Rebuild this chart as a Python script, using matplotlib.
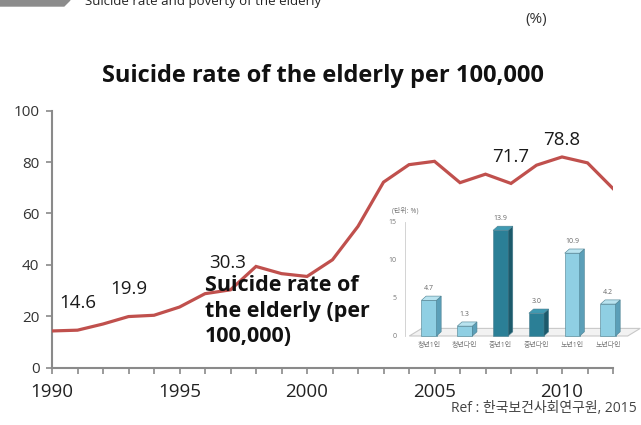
import matplotlib
matplotlib.use("Agg")
import matplotlib.pyplot as plt
from matplotlib.patches import Polygon

plt.rcParams['font.family'] = ['Open Sans', 'Noto Sans CJK KR', 'DejaVu Sans']

# elderly suicide rate per 100,000
years = list(range(1990, 2013))
rate = [14.3, 14.6, 17.0, 19.9, 20.4, 23.6, 28.8, 30.3, 39.4, 36.6, 35.5,
        42.0, 55.0, 72.2, 79.0, 80.3, 72.0, 75.3, 71.7, 78.8, 82.0, 79.7, 69.7]
labelled = {1991: (0, 19.5), 1993: (0, 20), 1997: (-2, 19.5),
            2008: (0, 19), 2009: (18, 18)}

# inset: poverty rate by household type (%)
hh_types = ['청년1인', '청년다인', '중년1인', '중년다인', '노년1인', '노년다인']
poverty = [4.7, 1.3, 13.9, 3.0, 10.9, 4.2]
dark_bar = [False, False, True, True, False, False]

W, H = 641, 425
fig = plt.figure(figsize=(W / 100, H / 100), dpi=100)


def px_box(x0, y0, x1, y1):
    return [x0 / W, 1 - y1 / H, (x1 - x0) / W, (y1 - y0) / H]


# header strip, cut at the top edge
fig.patches.append(Polygon([(0, 1), (70 / W, 1), (64 / W, 1 - 6 / H), (0, 1 - 6 / H)],
                           closed=True, transform=fig.transFigure, color='#8c8c8c'))
fig.text(85 / W, 1 - 5 / H, 'Suicide rate and poverty of the elderly', fontsize=9.5,
         color='#222222', va='baseline', ha='left')
fig.text(536 / W, 1 - 20 / H, '(%)', fontsize=11, color='#333333', ha='center', va='center')
fig.text(323 / W, 1 - 76 / H, 'Suicide rate of the elderly per 100,000', fontsize=17,
         fontweight='bold', ha='center', va='center', color='#111111')

ax = fig.add_axes(px_box(52, 110.7, 613, 367.7))
ax.plot(years, rate, color='#c0504d', lw=2.3, solid_joinstyle='miter', zorder=3)
ax.set_xlim(1990, 2012)
ax.set_ylim(0, 100)
ax.set_yticks(range(0, 101, 20))
ax.set_xticks(years)
ax.set_xticklabels([str(y) if y % 5 == 0 else '' for y in years])
for s in ['top', 'right']:
    ax.spines[s].set_visible(False)
for s in ['left', 'bottom']:
    ax.spines[s].set_color('#8a8a8a')
    ax.spines[s].set_linewidth(1.5)
ax.tick_params(axis='both', direction='out', length=4, width=1.2, color='#8a8a8a')
ax.tick_params(axis='y', labelsize=11, labelcolor='#333333', pad=5)
ax.tick_params(axis='x', labelsize=13.5, labelcolor='#222222', pad=7)

for yr, (dx, dy) in labelled.items():
    v = rate[years.index(yr)]
    ax.annotate(f'{v}', (yr, v), xytext=(dx, dy), textcoords='offset points',
                ha='center', va='center', fontsize=13.5, color='#1a1a1a')

# inset bar chart with pseudo-3D bars
ins = fig.add_axes(px_box(405, 222, 632, 336))
ins.set_xlim(-0.67, 5.67)
ins.set_ylim(0, 15)
bw, ddx, ddy = 0.42, 0.13, 0.55
floor = Polygon([(-0.55, 0), (5.55, 0), (5.55 + 0.35, 1.0), (-0.55 + 0.35, 1.0)],
                closed=True, facecolor='#f2f2f2', edgecolor='#c8c8c8', lw=0.8,
                clip_on=False, zorder=1)
ins.add_patch(floor)
for i, (v, dk) in enumerate(zip(poverty, dark_bar)):
    front, side, top = (('#2b7f96', '#1c5a6b', '#3f9ab2') if dk
                        else ('#8fcfe3', '#5b9fb8', '#b9e3ef'))
    x0, x1 = i - bw / 2, i + bw / 2
    ins.add_patch(Polygon([(x0, 0), (x1, 0), (x1, v), (x0, v)], closed=True,
                          facecolor=front, edgecolor='#4a7f90', lw=0.4, clip_on=False, zorder=3))
    ins.add_patch(Polygon([(x1, 0), (x1 + ddx, ddy), (x1 + ddx, v + ddy), (x1, v)], closed=True,
                          facecolor=side, edgecolor='#4a7f90', lw=0.4, clip_on=False, zorder=3))
    ins.add_patch(Polygon([(x0, v), (x1, v), (x1 + ddx, v + ddy), (x0 + ddx, v + ddy)], closed=True,
                          facecolor=top, edgecolor='#4a7f90', lw=0.4, clip_on=False, zorder=3))
    ins.text(i, v + 1.1, f'{v:.1f}', ha='center', va='bottom', fontsize=5, color='#666666')
ins.set_yticks([0, 5, 10, 15])
ins.set_xticks(range(len(hh_types)))
ins.set_xticklabels(hh_types)
ins.tick_params(axis='both', length=0, labelsize=5, labelcolor='#777777')
ins.tick_params(axis='x', pad=4)
ins.tick_params(axis='y', pad=6)
for s in ['top', 'right', 'bottom']:
    ins.spines[s].set_visible(False)
ins.spines['left'].set_color('#cccccc')
ins.spines['left'].set_linewidth(0.6)
ins.patch.set_alpha(0)
fig.text(392 / W, 1 - 211 / H, '(단위: %)', fontsize=5, color='#777777', ha='left', va='center')

fig.text(205 / W, 1 - 311 / H, 'Suicide rate of\nthe elderly (per\n100,000)', fontsize=15.5,
         fontweight='bold', color='#111111', ha='left', va='center', linespacing=1.3)

fig.text(637 / W, 1 - 408 / H, 'Ref : 한국보건사회연구원, 2015', fontsize=10,
         color='#444444', ha='right', va='center')

fig.savefig('out.png', dpi=100)
